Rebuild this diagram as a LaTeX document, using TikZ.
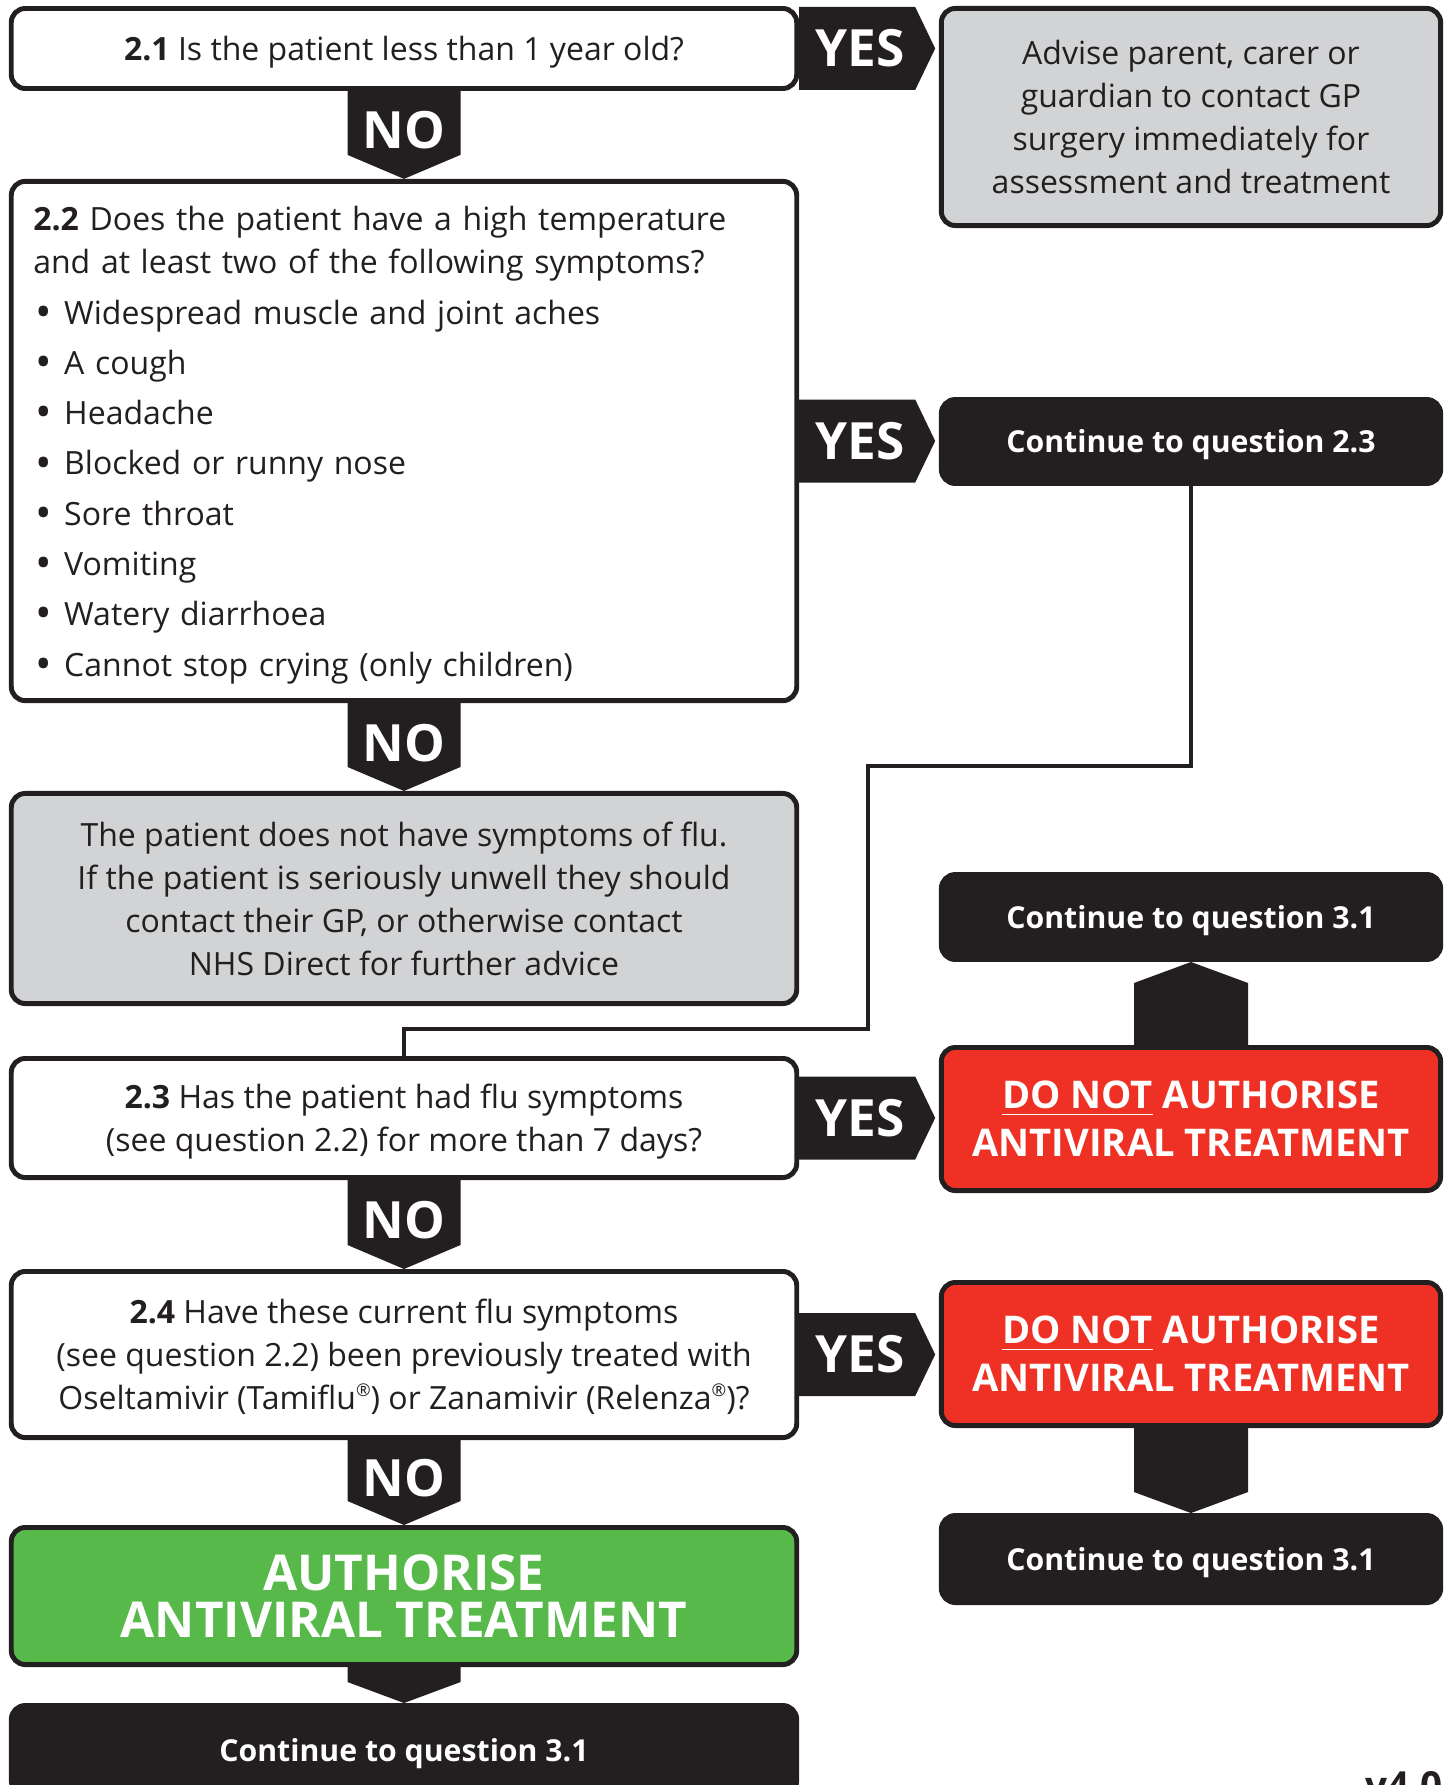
\documentclass[tikz,border=0pt]{standalone}
\usepackage{fontspec}
\setmainfont{Open Sans}
\usetikzlibrary{calc}
\definecolor{ink}{HTML}{231F20}
\definecolor{panel}{HTML}{D1D3D4}
\definecolor{stopred}{HTML}{EE3124}
\definecolor{gogreen}{HTML}{56B949}
\newcommand{\itemline}[1]{\makebox[8.8pt][l]{\hspace{0.5pt}\raisebox{-0.9pt}{\fontsize{12.5}{12.5}\selectfont\textbullet}}#1}
\newcommand{\regmark}{\raisebox{0.42em}{\fontsize{5}{5}\selectfont\textregistered}}
\begin{document}
\begin{tikzpicture}[x=0.01cm,y=-0.01cm,
  box/.style={draw=ink,line width=1.4pt,rounded corners=0.14cm,inner sep=0pt,align=center,
    text=ink,text depth=0pt,font=\fontsize{9.1}{12.2}\selectfont},
  wide/.style={minimum width=7.85cm},
  narrow/.style={minimum width=4.99cm},
  question/.style={box,wide,fill=white},
  info/.style={box,fill=panel},
  goto/.style={box,narrow,fill=ink,text=white,font=\bfseries\fontsize{8.6}{10}\selectfont},
  stop/.style={box,narrow,fill=stopred,text=white,font=\bfseries\fontsize{10.85}{13.6}\selectfont},
  go/.style={box,wide,fill=gogreen,text=white,font=\bfseries\fontsize{14.05}{13.6}\selectfont},
  flag/.style={text=white,inner sep=0pt,font=\bfseries\fontsize{14.6}{14.6}\selectfont},
  link/.style={draw=ink,line width=1.4pt}]

  \useasboundingbox (0,0) rectangle (1451,1785);
  \clip (0,0) rectangle (1451,1785);

  \node[question,minimum height=0.80cm] (q21) at (404,48.5) {\textbf{2.1} Is the patient less than 1 year old?};
  \node[info,narrow,minimum height=2.17cm] (advise) at (1191,117)
    {Advise parent, carer or\\guardian to contact GP\\surgery immediately for\\assessment and treatment};
  \node[question,minimum height=5.19cm,align=left,text width=7.41cm,text depth=] (q22) at (404,441)
    {\rule{0pt}{9.3pt}\textbf{2.2} Does the patient have a high temperature\\
     and at least two of the following symptoms?\\[2.1pt]
     \itemline{Widespread muscle and joint aches}\\[2.1pt]
     \itemline{A cough}\\[2.1pt]
     \itemline{Headache}\\[2.1pt]
     \itemline{Blocked or runny nose}\\[2.1pt]
     \itemline{Sore throat}\\[2.1pt]
     \itemline{Vomiting}\\[2.1pt]
     \itemline{Watery diarrhoea}\\[2.1pt]
     \itemline{Cannot stop crying (only children)}};
  \node[goto,minimum height=0.84cm] (c23) at (1191,441.5) {Continue to question 2.3};
  \node[info,wide,minimum height=2.10cm] (noflu) at (404,898.5)
    {The patient does not have symptoms of flu.\\If the patient is seriously unwell they should\\
     contact their GP, or otherwise contact\\NHS Direct for further advice};
  \node[goto,minimum height=0.85cm] (c31a) at (1191,917) {Continue to question 3.1};
  \node[stop,minimum height=1.43cm] (red1) at (1191,1119) {\underline{DO NOT} AUTHORISE\\ANTIVIRAL TREATMENT};
  \node[question,minimum height=1.19cm] (q23) at (404,1118)
    {\textbf{2.3} Has the patient had flu symptoms\\(see question 2.2) for more than 7 days?};
  \node[question,minimum height=1.66cm] (q24) at (404,1354.5)
    {\textbf{2.4} Have these current flu symptoms\\(see question 2.2) been previously treated with\\
     Oseltamivir (Tamiflu\regmark) or Zanamivir (Relenza\regmark)?};
  \node[stop,minimum height=1.43cm] (red2) at (1191,1354) {\underline{DO NOT} AUTHORISE\\ANTIVIRAL TREATMENT};
  \node[goto,minimum height=0.87cm] (c31b) at (1191,1559) {Continue to question 3.1};
  \node[go,minimum height=1.37cm] (auth) at (404,1596) {AUTHORISE\\ANTIVIRAL TREATMENT};
  \node[goto,wide,minimum height=0.89cm] (c31c) at (404,1750) {Continue to question 3.1};
  \node[anchor=north east,inner sep=0pt,text=ink,font=\bfseries\fontsize{11}{13}\selectfont] (ver) at (1443,1771) {v4.0};

  \coordinate (bend1) at (868,766);
  \coordinate (bend2) at (868,1029);
  \draw[link] (c23.south) |- (bend1) -- (bend2) -| (q23.north);

  \fill[ink] ($(q21.south)+(-56.5,0)$) -- ($(q21.south)+(56.5,0)$) -- ($(q22.north)+(56.5,-24)$)
    -- (q22.north) -- ($(q22.north)+(-56.5,-24)$) -- cycle;
  \fill[ink] ($(q22.south)+(-56.5,0)$) -- ($(q22.south)+(56.5,0)$) -- ($(noflu.north)+(56.5,-24)$)
    -- (noflu.north) -- ($(noflu.north)+(-56.5,-24)$) -- cycle;
  \fill[ink] ($(q23.south)+(-56.5,0)$) -- ($(q23.south)+(56.5,0)$) -- ($(q24.north)+(56.5,-24)$)
    -- (q24.north) -- ($(q24.north)+(-56.5,-24)$) -- cycle;
  \fill[ink] ($(q24.south)+(-56.5,0)$) -- ($(q24.south)+(56.5,0)$) -- ($(auth.north)+(56.5,-24)$)
    -- (auth.north) -- ($(auth.north)+(-56.5,-24)$) -- cycle;
  \fill[ink] ($(auth.south)+(-56.5,0)$) -- ($(auth.south)+(56.5,0)$) -- ($(c31c.north)+(56.5,-21)$)
    -- (c31c.north) -- ($(c31c.north)+(-56.5,-21)$) -- cycle;
  \fill[ink] ($(red2.south)+(-57,0)$) -- ($(red2.south)+(57,0)$) -- ($(c31b.north)+(57,-21)$)
    -- (c31b.north) -- ($(c31b.north)+(-57,-21)$) -- cycle;
  \fill[ink] ($(red1.north)+(-57,0)$) -- ($(red1.north)+(57,0)$) -- ($(c31a.south)+(57,21)$)
    -- (c31a.south) -- ($(c31a.south)+(-57,21)$) -- cycle;

  \fill[ink] ($(q21.east)+(0,-41.5)$) -- ($(q21.east)+(116,-41.5)$) -- ($(q21.east)+(136,0)$)
    -- ($(q21.east)+(116,41.5)$) -- ($(q21.east)+(0,41.5)$) -- cycle;
  \fill[ink] ($(q22.east)+(0,-41.5)$) -- ($(q22.east)+(116,-41.5)$) -- ($(q22.east)+(136,0)$)
    -- ($(q22.east)+(116,41.5)$) -- ($(q22.east)+(0,41.5)$) -- cycle;
  \fill[ink] ($(q23.east)+(0,-41.5)$) -- ($(q23.east)+(116,-41.5)$) -- ($(q23.east)+(136,0)$)
    -- ($(q23.east)+(116,41.5)$) -- ($(q23.east)+(0,41.5)$) -- cycle;
  \fill[ink] ($(q24.east)+(0,-41.5)$) -- ($(q24.east)+(116,-41.5)$) -- ($(q24.east)+(136,0)$)
    -- ($(q24.east)+(116,41.5)$) -- ($(q24.east)+(0,41.5)$) -- cycle;

  \node[flag] (no1) at ($(q21.south)!0.45!(q22.north)$) {NO};
  \node[flag] (no2) at ($(q22.south)!0.45!(noflu.north)$) {NO};
  \node[flag] (no3) at ($(q23.south)!0.45!(q24.north)$) {NO};
  \node[flag] (no4) at ($(q24.south)!0.45!(auth.north)$) {NO};
  \node[flag] (yes1) at ($(q21.east)+(61,0)$) {YES};
  \node[flag] (yes2) at ($(q22.east)+(61,0)$) {YES};
  \node[flag] (yes3) at ($(q23.east)+(61,0)$) {YES};
  \node[flag] (yes4) at ($(q24.east)+(61,0)$) {YES};
\end{tikzpicture}
\end{document}
